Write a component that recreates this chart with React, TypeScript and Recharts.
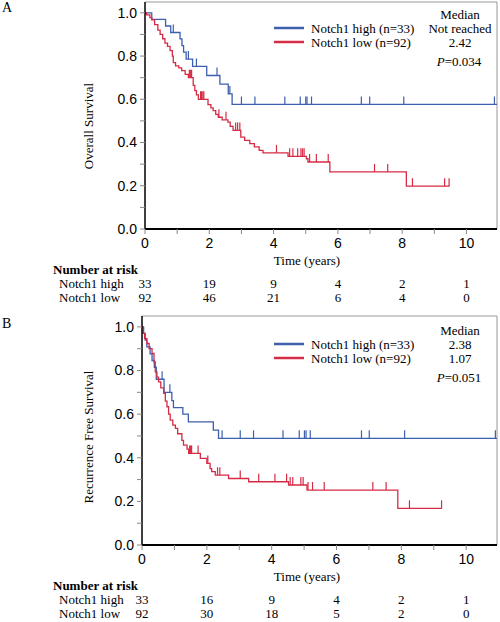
import { ComposedChart, Line, XAxis, YAxis, ReferenceLine } from "recharts";

// axis ticks
const timeTicks = [0, 1, 2, 3, 4, 5, 6, 7, 8, 9, 10];
const survTicks = [0, 0.1, 0.2, 0.3, 0.4, 0.5, 0.6, 0.7, 0.8, 0.9, 1.0];
const riskTimes = [0, 2, 4, 6, 8, 10];
const xMax = 10.95;
const yMax = 1.05;

const BLUE = "#3d5fae";
const RED = "#d62b44";

// Panel A - overall survival
const osHighT = [0.21, 0.64, 0.8, 1.09, 1.15, 1.2, 1.28, 1.48, 1.92, 2.33, 2.59, 2.71];
const osHighS = [0.97, 0.939, 0.909, 0.879, 0.848, 0.818, 0.786, 0.752, 0.71, 0.67, 0.625, 0.576];
const osHighCensor = [0.88, 1.35, 1.6, 2.24, 2.64, 3.0, 3.42, 4.35, 4.83, 5.0, 5.04, 5.18, 6.73, 6.99, 8.05, 10.87];
const osHighEnd = 10.95;

const osLowT = [0.05, 0.15, 0.21, 0.3, 0.4, 0.47, 0.55, 0.62, 0.7, 0.78, 0.85, 0.88, 0.95, 1.05, 1.14, 1.25, 1.35, 1.5, 1.55, 1.6, 1.66, 1.96, 2.05, 2.12, 2.2, 2.28, 2.4, 2.58, 2.65, 2.74, 2.98, 3.1, 3.26, 3.4, 3.55, 3.67, 4.45, 5.02, 5.07, 5.75, 8.13];
const osLowS = [0.99, 0.978, 0.967, 0.945, 0.92, 0.9, 0.88, 0.86, 0.845, 0.825, 0.8, 0.77, 0.755, 0.745, 0.733, 0.715, 0.7, 0.664, 0.64, 0.62, 0.6, 0.575, 0.56, 0.548, 0.53, 0.517, 0.505, 0.494, 0.475, 0.456, 0.425, 0.41, 0.395, 0.38, 0.364, 0.352, 0.336, 0.325, 0.31, 0.264, 0.198];
const osLowCensor = [1.38, 1.41, 1.45, 1.73, 1.76, 1.8, 1.83, 2.3, 2.52, 2.82, 2.88, 2.95, 4.09, 4.5, 4.6, 4.75, 4.85, 4.9, 4.95, 5.12, 5.33, 5.7, 7.14, 7.55, 8.32, 9.32, 9.46];
const osLowEnd = 9.47;

// Panel B - recurrence free survival
const rfsHighT = [0.05, 0.1, 0.15, 0.25, 0.31, 0.38, 0.44, 0.68, 0.92, 0.97, 1.26, 1.43, 2.2, 2.36];
const rfsHighS = [0.97, 0.94, 0.908, 0.876, 0.846, 0.815, 0.76, 0.7, 0.662, 0.63, 0.6, 0.565, 0.527, 0.489];
const rfsHighCensor = [0.62, 0.86, 2.47, 3.03, 3.44, 4.35, 4.85, 5.01, 5.06, 5.19, 6.77, 7.01, 8.1, 10.9];
const rfsHighEnd = 10.95;

const rfsLowT = [0.03, 0.08, 0.15, 0.22, 0.31, 0.37, 0.41, 0.46, 0.51, 0.58, 0.67, 0.72, 0.77, 0.82, 0.87, 0.95, 1.03, 1.1, 1.23, 1.28, 1.39, 1.44, 1.8, 2.0, 2.1, 2.15, 2.26, 2.67, 3.29, 4.52, 5.09, 7.89];
const rfsLowS = [0.97, 0.946, 0.924, 0.9, 0.878, 0.84, 0.794, 0.77, 0.748, 0.72, 0.695, 0.66, 0.634, 0.6, 0.573, 0.55, 0.535, 0.51, 0.48, 0.458, 0.44, 0.42, 0.397, 0.374, 0.35, 0.336, 0.32, 0.305, 0.29, 0.275, 0.252, 0.168];
const rfsLowCensor = [1.47, 1.5, 1.53, 1.73, 2.03, 2.33, 2.4, 3.03, 3.6, 4.1, 4.46, 4.57, 4.65, 4.9, 4.97, 5.12, 5.26, 5.62, 7.12, 7.53, 8.25, 9.24];
const rfsLowEnd = 9.25;

// number at risk
const osRiskHigh = [33, 19, 9, 4, 2, 1];
const osRiskLow = [92, 46, 21, 6, 4, 0];
const rfsRiskHigh = [33, 16, 9, 4, 2, 1];
const rfsRiskLow = [92, 30, 18, 5, 2, 0];

type Pt = { t: number; s: number; c: boolean };

function buildCurve(times: number[], surv: number[], censor: number[], end: number): Pt[] {
  const levelAt = (t: number) => {
    let s = 1;
    times.forEach((et, i) => {
      if (et <= t) s = surv[i];
    });
    return s;
  };
  const pts: Pt[] = [{ t: 0, s: 1, c: false }];
  times.forEach((t, i) => pts.push({ t, s: surv[i], c: false }));
  censor.forEach((t) => pts.push({ t, s: levelAt(t), c: true }));
  pts.push({ t: end, s: levelAt(end), c: false });
  return pts.sort((a, b) => a.t - b.t);
}

const SERIF = "'Liberation Serif', 'Times New Roman', serif";
const SANS = "'Liberation Sans', Arial, sans-serif";

type Curve = { key: string; color: string; points: Pt[] };

function KMChart({ top, left, bottom, curves }: { top: number; left: number; bottom: number; curves: Curve[] }) {
  return (
    <div style={{ position: "absolute", left: 0, top, width: 500, height: 270 }}>
      <ComposedChart width={500} height={270} margin={{ top: 2, right: 3, bottom: 0, left: 0 }}>
        <XAxis
          type="number"
          dataKey="t"
          domain={[0, xMax]}
          ticks={timeTicks}
          tickFormatter={(v: number) => (v % 2 === 0 ? String(v) : "")}
          height={270 - bottom}
          tickSize={5}
          tickMargin={4}
          axisLine={{ stroke: "#000", strokeWidth: 2 }}
          tickLine={{ stroke: "#888" }}
          tick={{ fill: "#000", fontSize: 14, fontFamily: SANS }}
          allowDataOverflow
        />
        <YAxis
          type="number"
          dataKey="s"
          domain={[0, yMax]}
          ticks={survTicks}
          tickFormatter={(v: number) => (Math.round(v * 10) % 2 === 0 ? v.toFixed(1) : "")}
          width={left}
          tickSize={5}
          tickMargin={3}
          axisLine={{ stroke: "#000", strokeWidth: 1.5 }}
          tickLine={{ stroke: "#888" }}
          tick={{ fill: "#000", fontSize: 14, fontFamily: SANS }}
          allowDataOverflow
        />
        <ReferenceLine y={yMax} stroke="#999" strokeWidth={1} />
        <ReferenceLine x={xMax} stroke="#999" strokeWidth={1} />
        {curves.map((c) => (
          <Line
            key={c.key}
            data={c.points}
            dataKey="s"
            type="stepAfter"
            stroke={c.color}
            strokeWidth={1.3}
            isAnimationActive={false}
            activeDot={false}
            dot={(p: any) =>
              p.payload && p.payload.c ? (
                <line key={`${c.key}-${p.index}`} x1={p.cx} x2={p.cx} y1={p.cy} y2={p.cy - 8} stroke={c.color} strokeWidth={1.2} />
              ) : (
                <g key={`${c.key}-${p.index}`} />
              )
            }
          />
        ))}
      </ComposedChart>
    </div>
  );
}

function riskX(plotLeft: number, t: number) {
  return plotLeft + (t / xMax) * (497 - plotLeft);
}

function Texts({
  top, label, plotLeft, labelY, medHigh, medLow, pValue, riskHigh, riskLow, tag,
}: {
  top: number; label: string; plotLeft: number; labelY: number; medHigh: string; medLow: string;
  pValue: string; riskHigh: number[]; riskLow: number[]; tag: string;
}) {
  const txt = { fontFamily: SERIF, fontSize: 13, fill: "#000" } as const;
  return (
    <g>
      <text x={2} y={top + 7} dominantBaseline="central" {...txt} fontSize={14}>{tag}</text>
      <text transform={`translate(88, ${labelY}) rotate(-90)`} textAnchor="middle" dominantBaseline="central" {...txt}>{label}</text>
      <text x={307} y={top + 260} textAnchor="middle" dominantBaseline="central" {...txt}>Time (years)</text>
      {/* legend */}
      <line x1={274} x2={304} y1={top + 28} y2={top + 28} stroke={BLUE} strokeWidth={2.5} />
      <line x1={274} x2={304} y1={top + 42} y2={top + 42} stroke={RED} strokeWidth={2.5} />
      <text x={311} y={top + 28} dominantBaseline="central" {...txt}>Notch1 high (n=33)</text>
      <text x={311} y={top + 42} dominantBaseline="central" {...txt}>Notch1 low (n=92)</text>
      <text x={460} y={top + 14} textAnchor="middle" dominantBaseline="central" {...txt}>Median</text>
      <text x={460} y={top + 28} textAnchor="middle" dominantBaseline="central" {...txt}>{medHigh}</text>
      <text x={460} y={top + 42} textAnchor="middle" dominantBaseline="central" {...txt}>{medLow}</text>
      <text x={459} y={top + 61} textAnchor="middle" dominantBaseline="central" {...txt}>
        <tspan fontStyle="italic">P</tspan>={pValue}
      </text>
      {/* number at risk */}
      <text x={53} y={top + 269} dominantBaseline="central" {...txt} fontWeight="bold">Number at risk</text>
      <text x={59} y={top + 283} dominantBaseline="central" {...txt}>Notch1 high</text>
      <text x={59} y={top + 297} dominantBaseline="central" {...txt}>Notch1 low</text>
      {riskTimes.map((t, i) => (
        <text key={`h${t}`} x={riskX(plotLeft, t)} y={top + 283} textAnchor="middle" dominantBaseline="central" {...txt}>{riskHigh[i]}</text>
      ))}
      {riskTimes.map((t, i) => (
        <text key={`l${t}`} x={riskX(plotLeft, t)} y={top + 297} textAnchor="middle" dominantBaseline="central" {...txt}>{riskLow[i]}</text>
      ))}
    </g>
  );
}

export default function App() {
  const osCurves: Curve[] = [
    { key: "osHigh", color: BLUE, points: buildCurve(osHighT, osHighS, osHighCensor, osHighEnd) },
    { key: "osLow", color: RED, points: buildCurve(osLowT, osLowS, osLowCensor, osLowEnd) },
  ];
  const rfsCurves: Curve[] = [
    { key: "rfsHigh", color: BLUE, points: buildCurve(rfsHighT, rfsHighS, rfsHighCensor, rfsHighEnd) },
    { key: "rfsLow", color: RED, points: buildCurve(rfsLowT, rfsLowS, rfsLowCensor, rfsLowEnd) },
  ];
  return (
    <div style={{ position: "absolute", left: 0, top: 0, width: 500, height: 622, background: "#fff", overflow: "hidden" }}>
      <KMChart top={0} left={145} bottom={229} curves={osCurves} />
      <KMChart top={314} left={142} bottom={231} curves={rfsCurves} />
      <svg width={500} height={622} style={{ position: "absolute", left: 0, top: 0, pointerEvents: "none" }}>
        <Texts top={0} tag="A" label="Overall Survival" plotLeft={145} labelY={126} medHigh="Not reached" medLow="2.42" pValue="0.034" riskHigh={osRiskHigh} riskLow={osRiskLow} />
        <Texts top={316} tag="B" label="Recurrence Free Survival" plotLeft={142} labelY={437} medHigh="2.38" medLow="1.07" pValue="0.051" riskHigh={rfsRiskHigh} riskLow={rfsRiskLow} />
      </svg>
    </div>
  );
}
